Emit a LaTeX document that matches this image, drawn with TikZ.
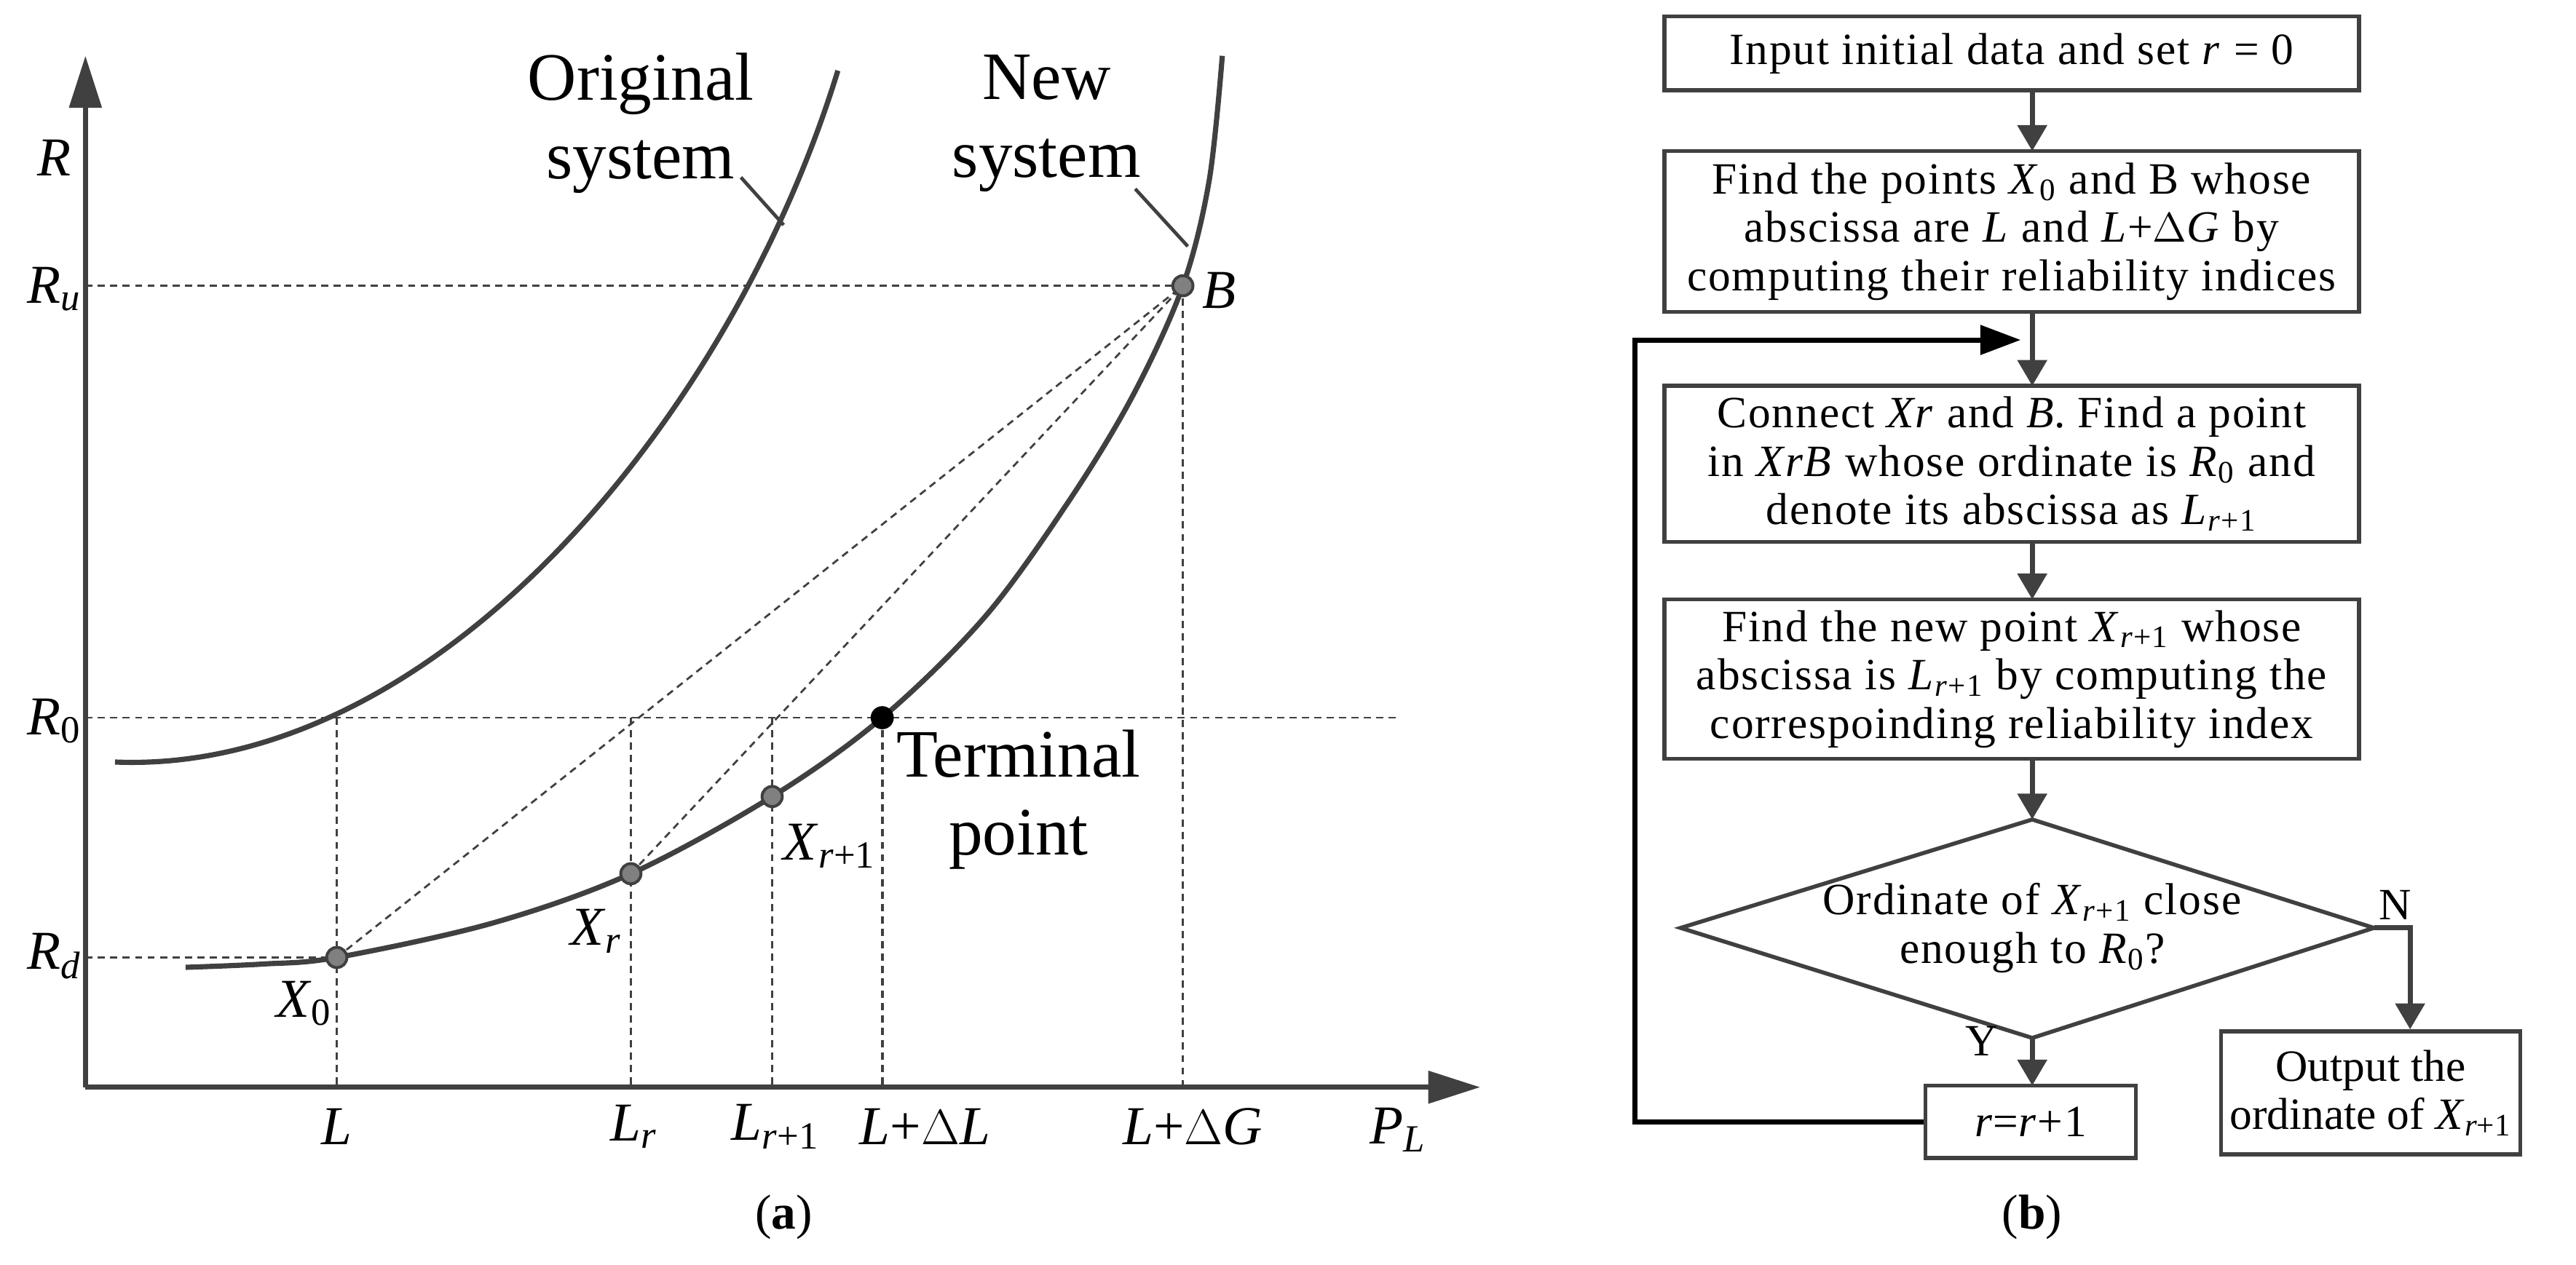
\documentclass[tikz,border=0pt]{standalone}
\usepackage{fontspec}
\setmainfont{Liberation Serif}
\usetikzlibrary{arrows.meta}
\newcommand\mysub[1]{\textsubscript{#1}}
\newcommand\iv[1]{\textit{#1}}
\definecolor{dg}{HTML}{404040}
\tikzset{
  curve/.style={draw=dg,line width=1.8pt},
  axis/.style={draw=dg,line width=1.8pt,-{Triangle[length=18pt,width=11pt]}},
  dsh/.style={draw=dg,line width=0.7pt,dash pattern=on 2.5pt off 1.8pt},
  pt/.style={circle,draw=dg,fill=gray,line width=1pt,inner sep=0pt,minimum size=7pt},
  lab/.style={font=\fontsize{19}{26}\selectfont,align=center,inner sep=1pt},
  big/.style={font=\fontsize{23.5}{27}\selectfont,align=center,inner sep=1pt},
  box/.style={draw=dg,line width=1.4pt,align=center,font=\fontsize{15.5}{16.8}\selectfont\addfontfeature{LetterSpace=3},inner sep=0pt},
  flow/.style={draw=dg,line width=1.8pt,-{Triangle[length=9pt,width=10pt]}},
}
\begin{document}
\begin{tikzpicture}[x=0.02cm,y=-0.02cm]
\useasboundingbox (0,0) rectangle (1568,770);
% axes
\coordinate (O) at (52,662);
\coordinate (Ytop) at (52,34);
\coordinate (Xend) at (901,662);
\draw[axis] (O) -- (Ytop);
\draw[axis] (O) -- (Xend);
% points
\coordinate (X0) at (205,583);
\coordinate (Xr) at (384,532);
\coordinate (Xr1) at (470,485);
\coordinate (T) at (537,437);
\coordinate (B) at (720,174);
\coordinate (OL) at (205,437);
% dashed guides
\draw[dsh] (52,174) -- (B);
\draw[dsh] (52,437) -- (851,437);
\draw[dsh] (52,583) -- (X0);
\draw[dsh] (OL) -- (205,662);
\draw[dsh] (384,437) -- (384,662);
\draw[dsh] (470,437) -- (470,662);
\draw[dsh,line width=1pt] (T) -- (537,662);
\draw[dsh] (B) -- (720,662);
\draw[dsh] (X0) -- (B);
\draw[dsh] (Xr) -- (B);
% curves
\draw[curve] (70,464) .. controls (265,472) and (445,255) .. (510,43);
\draw[curve] plot[smooth,tension=0.55] coordinates {(113,589) (160,587) (205,583) (300,562) (384,532) (470,485) (537,437) (600,375) (652,303) (690,240) (720,174) (736,110) (744,34)};
\node[pt] at (X0) {};
\node[pt] at (Xr) {};
\node[pt] at (Xr1) {};
\node[pt] at (B) {};
\node[circle,fill=black,inner sep=0pt,minimum size=8pt] at (T) {};
% leader lines
\draw[dg,line width=1.2pt] (451,108) -- (477,137);
\draw[dg,line width=1.2pt] (691,115) -- (723,150);
% labels
\node[lab] (lR) at (33,96) {\iv{R}};
\node[lab] (lRu) at (33,176) {\iv{R}\mysub{\iv{u}}};
\node[lab] (lR0) at (33,439) {\iv{R}\mysub{0}};
\node[lab] (lRd) at (33,582) {\iv{R}\mysub{\iv{d}}};
\node[lab] (lX0) at (185,611) {\iv{X}\mysub{0}};
\node[lab] (lXr) at (363,567) {\iv{X}\mysub{\iv{r}}};
\node[lab] (lXr1) at (505,515) {\iv{X}\mysub{\iv{r}+1}};
\node[big] (lT) at (620,487) {Terminal\\point};
\node[lab] (lB) at (742,177) {\iv{B}};
\node[big] (lOrig) at (390,75) {Original\\system};
\node[big] (lNew) at (637,75) {New\\system};
\node[lab] (xL) at (205,686) {\iv{L}};
\node[lab] (xLr) at (386,686) {\iv{L}\mysub{\iv{r}}};
\node[lab] (xLr1) at (472,686) {\iv{L}\mysub{\iv{r}+1}};
\node[lab] (xLdL) at (563,686) {\iv{L}+$\Delta$\iv{L}};
\node[lab] (xLdG) at (726,686) {\iv{L}+$\Delta$\iv{G}};
\node[lab] (xPL) at (851,688) {\iv{P}\mysub{\iv{L}}};
\node[font=\fontsize{17}{20}\selectfont] (ca) at (477,741) {(\textbf{a})};
% flowchart
\node[box,minimum width=423*0.02cm,minimum height=45*0.02cm] (b1) at (1224.5,32.5) {Input initial data and set \iv{r} = 0};
\node[box,minimum width=423*0.02cm,minimum height=98*0.02cm] (b2) at (1224.5,141) {Find the points \iv{X}\mysub{0} and B whose\\abscissa are \iv{L} and \iv{L}+$\Delta$\iv{G} by\\computing their reliability indices};
\node[box,minimum width=423*0.02cm,minimum height=95*0.02cm] (b3) at (1224.5,282.5) {Connect \iv{Xr} and \iv{B}. Find a point\\in \iv{XrB} whose ordinate is \iv{R}\mysub{0} and\\denote its abscissa as \iv{L}\mysub{\iv{r}+1}};
\node[box,minimum width=423*0.02cm,minimum height=97*0.02cm] (b4) at (1224.5,413.5) {Find the new point \iv{X}\mysub{\iv{r}+1} whose\\abscissa is \iv{L}\mysub{\iv{r}+1} by computing the\\correspoinding reliability index};
\coordinate (dt) at (1237,499);
\coordinate (db) at (1237,632);
\coordinate (dl) at (1023,565);
\coordinate (dr) at (1445,565);
\draw[dg,line width=1.4pt] (dt) -- (dr) -- (db) -- (dl) -- cycle;
\node[box,draw=none] (dtext) at (1237,565) {Ordinate of \iv{X}\mysub{\iv{r}+1} close\\enough to \iv{R}\mysub{0}?};
\node[box,minimum width=128*0.02cm,minimum height=44*0.02cm] (b5) at (1236,683) {\iv{r}=\iv{r}+1};
\node[box,minimum width=182*0.02cm,minimum height=75*0.02cm,font=\fontsize{15.5}{16.8}\selectfont] (b6) at (1443,665.5) {Output the\\ordinate of \iv{X}\mysub{\iv{r}+1}};
\draw[flow] (b1.south -| 1237,0) -- (1237,92);
\draw[flow] (1237,190) -- (1237,235);
\draw[flow] (1237,330) -- (1237,365);
\draw[flow] (1237,462) -- (dt);
\draw[flow] (db) -- (1237,661);
\draw[flow] (dr) -- (1467,565) -- (b6.north -| 1467,0);
\draw[black,line width=1.8pt,-{Triangle[length=14pt,width=10pt]}] (b5.west) -- (995,683) -- (995,207) -- (1230,207);
\node[box,draw=none] (lN) at (1458,551) {N};
\node[box,draw=none] (lY) at (1206,634) {Y};
\node[font=\fontsize{17}{20}\selectfont] (cb) at (1237,741) {(\textbf{b})};
\end{tikzpicture}
\end{document}
